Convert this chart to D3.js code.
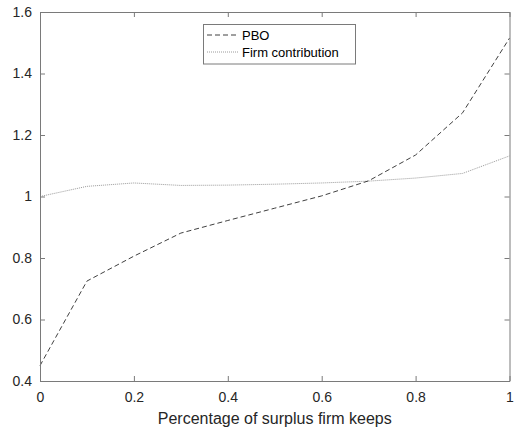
<!DOCTYPE html>
<html>
<head>
<meta charset="utf-8">
<script src="https://cdn.jsdelivr.net/npm/d3@7"></script>
<style>
  html, body { margin: 0; padding: 0; background: #fff; }
  svg { display: block; font-family: "Liberation Sans", Arial, Helvetica, sans-serif; }
</style>
</head>
<body>
<svg id="chart" width="514" height="433"></svg>
<script>
// Share of surplus kept by the firm
const xValues = [0, 0.1, 0.2, 0.3, 0.4, 0.5, 0.6, 0.7, 0.8, 0.9, 1.0];
// Projected benefit obligation
const pboValues = [0.45, 0.725, 0.806, 0.881, 0.922, 0.962, 1.002, 1.051, 1.135, 1.272, 1.515];
// Firm contribution
const firmValues = [1.0, 1.033, 1.044, 1.036, 1.037, 1.04, 1.044, 1.05, 1.06, 1.075, 1.132];

const xTicks = [0, 0.2, 0.4, 0.6, 0.8, 1];
const yTicks = [0.4, 0.6, 0.8, 1, 1.2, 1.4, 1.6];
const seriesNames = ["PBO", "Firm contribution"];
const xLabel = "Percentage of surplus firm keeps";

const svg = d3.select("#chart");
const plotLeft = 40, plotRight = 509.5, plotTop = 12, plotBottom = 381;

const x = d3.scaleLinear().domain([0, 1]).range([plotLeft, plotRight]);
const y = d3.scaleLinear().domain([0.4, 1.6]).range([plotBottom, plotTop]);

const axisColor = "#7a7a7a";
const fmt = d => d3.format("~g")(d);

// Series lines
const line = d3.line().x((d, i) => x(xValues[i])).y(d => y(d));

svg.append("path")
  .datum(firmValues)
  .attr("d", line)
  .attr("fill", "none")
  .attr("stroke", "#9a9a9a")
  .attr("stroke-width", 1)
  .attr("stroke-dasharray", "1,1");

svg.append("path")
  .datum(pboValues)
  .attr("d", line)
  .attr("fill", "none")
  .attr("stroke", "#404040")
  .attr("stroke-width", 1)
  .attr("stroke-dasharray", "5,3");

// Axes with inward ticks on all four sides
function styleAxis(g) {
  g.selectAll(".domain").attr("stroke", axisColor).attr("stroke-width", 1);
  g.selectAll(".tick line").attr("stroke", axisColor);
  g.selectAll(".tick text").attr("fill", "#262626").attr("font-size", 14)
    .attr("font-family", "Liberation Sans, Arial, sans-serif");
}

svg.append("g")
  .attr("transform", `translate(0,${plotBottom})`)
  .call(d3.axisBottom(x).tickValues(xTicks).tickFormat(fmt).tickSizeInner(-5).tickSizeOuter(0).tickPadding(11))
  .call(styleAxis);

svg.append("g")
  .attr("transform", `translate(0,${plotTop})`)
  .call(d3.axisTop(x).tickValues(xTicks).tickFormat("").tickSizeInner(-5).tickSizeOuter(0))
  .call(styleAxis);

svg.append("g")
  .attr("transform", `translate(${plotLeft},0)`)
  .call(d3.axisLeft(y).tickValues(yTicks).tickFormat(fmt).tickSizeInner(-5).tickSizeOuter(0).tickPadding(8))
  .call(styleAxis);

svg.append("g")
  .attr("transform", `translate(${plotRight},0)`)
  .call(d3.axisRight(y).tickValues(yTicks).tickFormat("").tickSizeInner(-5).tickSizeOuter(0))
  .call(styleAxis);

// X axis title
svg.append("text")
  .attr("x", (plotLeft + plotRight) / 2)
  .attr("y", 424)
  .attr("text-anchor", "middle")
  .attr("font-size", 16)
  .attr("fill", "#262626")
  .text(xLabel);

// Legend
const legend = svg.append("g");
legend.append("rect")
  .attr("x", 203.5).attr("y", 24.5)
  .attr("width", 152).attr("height", 39.5)
  .attr("fill", "#fff")
  .attr("stroke", axisColor)
  .attr("stroke-width", 1);

const legendStyles = [
  { stroke: "#404040", dash: "5,3" },
  { stroke: "#9a9a9a", dash: "1,1" }
];
seriesNames.forEach((name, i) => {
  const ly = 35 + i * 17;
  legend.append("line")
    .attr("x1", 207).attr("x2", 238)
    .attr("y1", ly).attr("y2", ly)
    .attr("stroke", legendStyles[i].stroke)
    .attr("stroke-dasharray", legendStyles[i].dash);
  legend.append("text")
    .attr("x", 242).attr("y", ly + 4.5)
    .attr("font-size", 13)
    .attr("fill", "#000")
    .text(name);
});
</script>
</body>
</html>
